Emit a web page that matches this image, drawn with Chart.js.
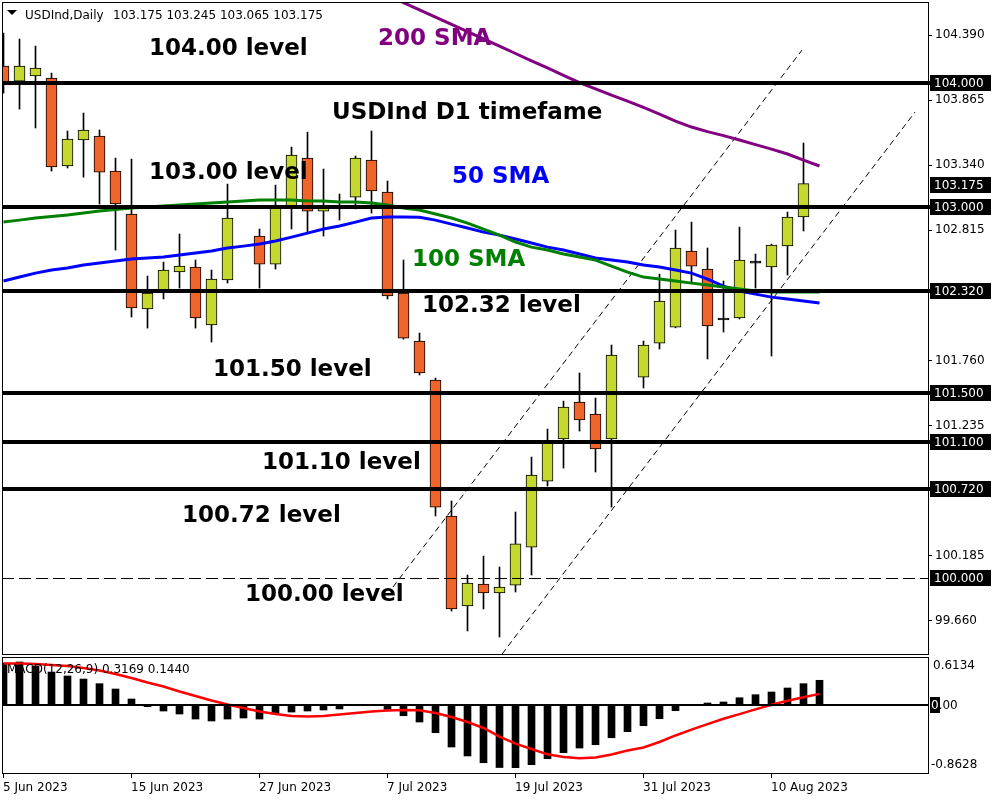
<!DOCTYPE html>
<html>
<head>
<meta charset="utf-8">
<script src="https://cdn.jsdelivr.net/npm/chart.js@4.4.0/dist/chart.umd.min.js"></script>
<style>
  html, body { margin: 0; padding: 0; background: #fff; }
  #wrap { position: relative; width: 1000px; height: 800px; }
  #priceChart { position: absolute; left: 0; top: 0; }
  #macdChart { position: absolute; left: 0; top: 656px; }
</style>
</head>
<body>
<div id="wrap">
  <canvas id="priceChart" width="1000" height="656"></canvas>
  <canvas id="macdChart" width="1000" height="144"></canvas>
</div>
<script>
// daily bars, 5 Jun 2023 .. 14 Aug 2023 (slot index = trading day)
const dateLabels = ['5 Jun 2023', '15 Jun 2023', '27 Jun 2023', '7 Jul 2023', '19 Jul 2023', '31 Jul 2023', '10 Aug 2023'];
const dateSlots = [0, 8, 16, 24, 32, 40, 48];

const opens = [104.140, 104.018, 104.059, 104.043, 103.332, 103.542, 103.574, 103.291, 102.944, 102.177,
  102.314, 102.476, 102.516, 102.048, 102.411, null, 102.766, 102.540, 103.009, 103.396,
  102.968, 102.985, 103.081, 103.380, 103.122, 102.306, 101.918, 101.603, 100.505, 99.778,
  99.955, 99.883, 99.947, 100.254, 100.787, 101.127, 101.425, 101.329, 101.127, null,
  101.627, 101.902, 102.031, 102.645, 102.500, 102.088, 102.104, 102.548, 102.516, 102.686,
  102.920];
const highs = [104.406, 104.358, 104.301, 104.083, 103.615, 103.760, 103.623, 103.396, 103.388, 102.443,
  102.556, 102.783, 102.573, 102.492, 103.186, null, 102.823, 103.178, 103.485, 103.606,
  103.308, 103.106, 103.413, 103.615, 103.211, 102.573, 101.983, 101.619, 100.626, 100.028,
  100.181, 100.093, 100.537, 100.981, 101.207, 101.433, 101.660, 101.458, 101.886, null,
  101.918, 102.459, 102.815, 102.879, 102.670, 102.403, 102.839, 102.621, 102.702, 102.960,
  103.518];
const lows = [103.921, 103.792, 103.639, 103.291, 103.316, 103.242, 103.025, 102.653, 102.112, 102.023,
  102.258, 102.346, 102.023, 101.910, 102.387, null, 102.346, 102.500, 102.823, 102.799,
  102.766, 102.896, 102.985, 102.952, 102.258, 101.934, 101.644, 100.505, 99.737, 99.576,
  99.754, 99.527, 99.891, 100.028, 100.747, 100.892, 101.191, 100.860, 100.577, null,
  101.539, 101.854, 102.025, 102.395, 101.773, 101.991, 102.096, 102.346, 101.797, 102.451,
  102.807];
const closes = [104.010, 104.140, 104.123, 103.324, 103.550, 103.623, 103.283, 103.025, 102.185, 102.306,
  102.492, 102.524, 102.104, 102.419, 102.912, null, 102.540, 102.993, 103.421, 102.968,
  103.001, 102.993, 103.396, 103.130, 102.282, 101.942, 101.660, 100.577, 99.754, 99.963,
  99.883, 99.931, 100.279, 100.836, 101.094, 101.385, 101.280, 101.046, 101.805, null,
  101.886, 102.241, 102.670, 102.524, 102.040, 102.088, 102.573, 102.548, 102.694, 102.920,
  103.190];

const sma50 = [102.403, 102.435, 102.467, 102.492, 102.508, 102.532, 102.548, 102.564, 102.580, 102.589,
  102.597, 102.613, 102.629, 102.645, 102.669, 102.685, 102.702, 102.726, 102.758, 102.790,
  102.823, 102.847, 102.879, 102.912, 102.920, 102.920, 102.918, 102.895, 102.863, 102.831,
  102.798, 102.774, 102.742, 102.710, 102.677, 102.653, 102.621, 102.589, 102.572, 102.556,
  102.532, 102.516, 102.492, 102.467, 102.419, 102.362, 102.322, 102.297, 102.273, 102.257,
  102.241, 102.225];
const sma100 = [102.879, 102.895, 102.912, 102.924, 102.936, 102.952, 102.968, 102.980, 102.992, 103.001,
  103.009, 103.017, 103.025, 103.033, 103.041, 103.049, 103.057, 103.057, 103.057, 103.049,
  103.049, 103.041, 103.041, 103.033, 103.017, 102.992, 102.976, 102.944, 102.912, 102.871,
  102.823, 102.774, 102.718, 102.677, 102.653, 102.621, 102.597, 102.572, 102.524, 102.475,
  102.435, 102.419, 102.403, 102.386, 102.370, 102.354, 102.338, 102.322, 102.314, 102.314,
  102.314, 102.314];
const sma200 = [null, null, null, null, null, null, null, null, null, null,
  null, null, null, null, null, null, null, null, null, null,
  null, null, null, 104.770, 104.713, 104.652, 104.594, 104.535, 104.476, 104.418,
  104.359, 104.300, 104.241, 104.182, 104.124, 104.065, 104.006, 103.955, 103.905, 103.857,
  103.806, 103.752, 103.695, 103.647, 103.610, 103.578, 103.542, 103.505, 103.469, 103.429,
  103.380, 103.332];

const macdHist = [0.537, 0.550, 0.499, 0.422, 0.372, 0.333, 0.274, 0.206, 0.079, -0.019,
  -0.074, -0.112, -0.176, -0.201, -0.176, -0.163, -0.176, -0.112, -0.087, -0.074,
  -0.061, -0.048, -0.005, -0.005, -0.052, -0.134, -0.214, -0.350, -0.532, -0.646,
  -0.732, -0.793, -0.795, -0.757, -0.681, -0.604, -0.545, -0.503, -0.414, -0.337,
  -0.261, -0.172, -0.070, -0.005, 0.028, 0.041, 0.095, 0.134, 0.168, 0.219,
  0.274, 0.317];
const macdSignal = [0.530, 0.530, 0.525, 0.512, 0.499, 0.473, 0.442, 0.397, 0.346, 0.289,
  0.238, 0.174, 0.117, 0.060, 0.009, -0.036, -0.080, -0.112, -0.137, -0.144,
  -0.137, -0.118, -0.099, -0.080, -0.067, -0.061, -0.065, -0.099, -0.150, -0.214,
  -0.290, -0.400, -0.490, -0.557, -0.625, -0.659, -0.676, -0.666, -0.627, -0.576,
  -0.538, -0.468, -0.385, -0.310, -0.240, -0.173, -0.113, -0.053, 0.005, 0.057,
  0.100, 0.144];

// drawn objects: levels, channel (slot, price)
const levels = [104.0, 103.0, 102.32, 101.5, 101.1, 100.72];
const roundLevel = 100.0;
const priceBoxes = [104.0, 103.175, 103.0, 102.32, 101.5, 101.1, 100.72, 100.0];
const priceTicks = [104.39, 103.865, 103.34, 102.815, 101.76, 101.235, 100.185, 99.66];
const channelUpper = [{ x: 24.34, y: 99.931 }, { x: 49.91, y: 104.269 }];
const channelLower = [{ x: 31.16, y: 99.390 }, { x: 56.97, y: 103.768 }];

const xMin = -0.09375, xMax = 57.78125;
const bullColor = '#c4d82f', bearColor = '#f2652a';

const toPoints = arr => arr.map((v, i) => ({ x: i, y: v })).filter(p => p.y !== null);
const slots = closes.map((c, i) => i).filter(i => opens[i] !== null);
const wickData = slots.map(i => ({ x: i, y: [lows[i], highs[i]] }));
const bodyData = slots.map(i => ({ x: i, y: [opens[i], closes[i]] }));
const bodyColors = slots.map(i => closes[i] > opens[i] ? bullColor : (closes[i] < opens[i] ? bearColor : '#000'));

const notes = [
  { text: '104.00 level', at: 9.09, price: 104.228, color: '#000' },
  { text: '200 SMA', at: 23.41, price: 104.309, color: '#800080' },
  { text: 'USDInd D1 timefame', at: 20.53, price: 103.711, color: '#000' },
  { text: '103.00 level', at: 9.09, price: 103.227, color: '#000' },
  { text: '50 SMA', at: 28.03, price: 103.194, color: '#0000ff' },
  { text: '100 SMA', at: 25.53, price: 102.524, color: '#008000' },
  { text: '102.32 level', at: 26.16, price: 102.153, color: '#000' },
  { text: '101.50 level', at: 13.09, price: 101.636, color: '#000' },
  { text: '101.10 level', at: 16.16, price: 100.884, color: '#000' },
  { text: '100.72 level', at: 11.16, price: 100.456, color: '#000' },
  { text: '100.00 level', at: 15.09, price: 99.818, color: '#000' }
];

const smallFont = '12px "DejaVu Sans"';

const priceOverlay = {
  id: 'priceOverlay',
  afterDatasetsDraw(chart) {
    const { ctx, chartArea: a, scales: { x, y } } = chart;
    ctx.save();
    // horizontal levels
    ctx.strokeStyle = '#000';
    ctx.lineWidth = 4;
    levels.forEach(v => {
      const py = Math.round(y.getPixelForValue(v));
      ctx.beginPath();
      ctx.moveTo(a.left, py);
      ctx.lineTo(a.right + 2, py);
      ctx.stroke();
    });
    ctx.lineWidth = 1;
    ctx.setLineDash([12, 5]);
    const p0 = Math.round(y.getPixelForValue(roundLevel)) + 0.5;
    ctx.beginPath();
    ctx.moveTo(a.left, p0);
    ctx.lineTo(a.right, p0);
    ctx.stroke();
    ctx.setLineDash([]);

    // text notes
    ctx.font = 'bold 23px "DejaVu Sans"';
    ctx.textAlign = 'left';
    ctx.textBaseline = 'alphabetic';
    notes.forEach(n => {
      ctx.fillStyle = n.color;
      ctx.fillText(n.text, x.getPixelForValue(n.at), y.getPixelForValue(n.price));
    });

    // frame
    ctx.strokeStyle = '#000';
    ctx.lineWidth = 1;
    ctx.strokeRect(a.left + 0.5, a.top - 0.5, a.right - a.left, a.bottom - a.top + 1);

    // price boxes
    ctx.font = smallFont;
    ctx.textBaseline = 'middle';
    priceBoxes.forEach(v => {
      const py = Math.round(y.getPixelForValue(v));
      ctx.fillStyle = '#000';
      ctx.fillRect(a.right + 2, py - 8, 61, 16);
      ctx.fillStyle = '#fff';
      ctx.fillText(v.toFixed(3), a.right + 6, py + 1);
    });

    // header
    ctx.fillStyle = '#000';
    ctx.beginPath();
    ctx.moveTo(7, 10); ctx.lineTo(17, 10); ctx.lineTo(12, 15); ctx.closePath();
    ctx.fill();
    ctx.textBaseline = 'alphabetic';
    ctx.fillText('USDInd,Daily', 25, 19);
    ctx.fillText('103.175 103.245 103.065 103.175', 113, 19);
    ctx.restore();
  }
};

new Chart(document.getElementById('priceChart'), {
  type: 'bar',
  data: {
    datasets: [
      { type: 'line', data: toPoints(sma200), borderColor: '#800080', borderWidth: 3, pointRadius: 0, order: 0, clip: 0 },
      { type: 'line', data: toPoints(sma100), borderColor: '#008000', borderWidth: 3, pointRadius: 0, order: 0, clip: 0 },
      { type: 'line', data: toPoints(sma50), borderColor: '#0000ff', borderWidth: 3, pointRadius: 0, order: 0, clip: 0 },
      { type: 'line', data: channelUpper, borderColor: '#000', borderWidth: 1, borderDash: [6, 4], pointRadius: 0, order: 0, clip: 0 },
      { type: 'line', data: channelLower, borderColor: '#000', borderWidth: 1, borderDash: [6, 4], pointRadius: 0, order: 0, clip: 0 },
      { data: bodyData, backgroundColor: bodyColors, borderColor: '#000', borderWidth: 1, borderSkipped: false,
        barThickness: 11, grouped: false, minBarLength: 2, order: 1, clip: 0 },
      { data: wickData, backgroundColor: '#000', barThickness: 1, grouped: false, order: 2, clip: 0 }
    ]
  },
  options: {
    responsive: false,
    animation: false,
    events: [],
    layout: { padding: { left: 2, top: 3, right: 0, bottom: 2 } },
    plugins: { legend: { display: false }, tooltip: { enabled: false } },
    scales: {
      x: { type: 'linear', min: xMin, max: xMax, offset: false, grid: { offset: false }, display: false },
      y: {
        position: 'right',
        min: 99.39,
        max: 104.649,
        afterBuildTicks: s => { s.ticks = priceTicks.map(v => ({ value: v })); },
        afterFit: s => { s.width = 72; s.paddingTop = 0; s.paddingBottom = 0; },
        grid: { drawOnChartArea: false, tickLength: 4, color: '#000' },
        border: { display: false },
        ticks: { padding: 3, color: '#000', font: { family: 'DejaVu Sans', size: 12 }, callback: v => v.toFixed(3) }
      }
    }
  },
  plugins: [priceOverlay]
});

const macdOverlay = {
  id: 'macdOverlay',
  afterDatasetsDraw(chart) {
    const { ctx, chartArea: a, scales: { x, y } } = chart;
    ctx.save();
    const zy = Math.round(y.getPixelForValue(0));
    ctx.fillStyle = '#000';
    ctx.fillRect(a.left, zy - 1, a.right - a.left, 2);
    ctx.strokeStyle = '#000';
    ctx.lineWidth = 1;
    ctx.strokeRect(a.left + 0.5, a.top + 0.5, a.right - a.left, a.bottom - a.top);

    ctx.font = smallFont;
    ctx.textAlign = 'left';
    ctx.textBaseline = 'middle';
    ctx.fillText(y.max.toFixed(4), a.right + 5, a.top + 9);
    ctx.fillText(y.min.toFixed(4), a.right + 3, a.bottom - 8);
    // zero value box
    ctx.fillRect(a.right + 2, zy - 8, 10, 16);
    ctx.fillText('0.00', a.right + 3, zy + 1);
    ctx.save();
    ctx.beginPath();
    ctx.rect(a.right + 2, zy - 8, 10, 16);
    ctx.clip();
    ctx.fillStyle = '#fff';
    ctx.fillText('0.00', a.right + 3, zy + 1);
    ctx.restore();

    // date axis
    ctx.textBaseline = 'alphabetic';
    dateSlots.forEach((s, k) => {
      const px = Math.round(x.getPixelForValue(s)) - 0.5;
      ctx.beginPath();
      ctx.moveTo(px, a.bottom);
      ctx.lineTo(px, a.bottom + 5);
      ctx.stroke();
      ctx.fillText(dateLabels[k], px - 0.5, 135);
    });

    ctx.fillText('MACD(12,26,9) 0.3169 0.1440', 7, 17);
    ctx.restore();
  }
};

new Chart(document.getElementById('macdChart'), {
  type: 'bar',
  data: {
    datasets: [
      { type: 'line', data: toPoints(macdSignal), borderColor: '#ff0000', borderWidth: 2.5, pointRadius: 0, order: 0, clip: 0 },
      { data: toPoints(macdHist), backgroundColor: '#000', barThickness: 7, order: 1, clip: 0 }
    ]
  },
  options: {
    responsive: false,
    animation: false,
    events: [],
    layout: { padding: { left: 2, top: 1, right: 72, bottom: 27 } },
    plugins: { legend: { display: false }, tooltip: { enabled: false } },
    scales: {
      x: { type: 'linear', min: xMin, max: xMax, offset: false, grid: { offset: false }, display: false },
      y: { min: -0.8628, max: 0.6134, display: false }
    }
  },
  plugins: [macdOverlay]
});
</script>
</body>
</html>
